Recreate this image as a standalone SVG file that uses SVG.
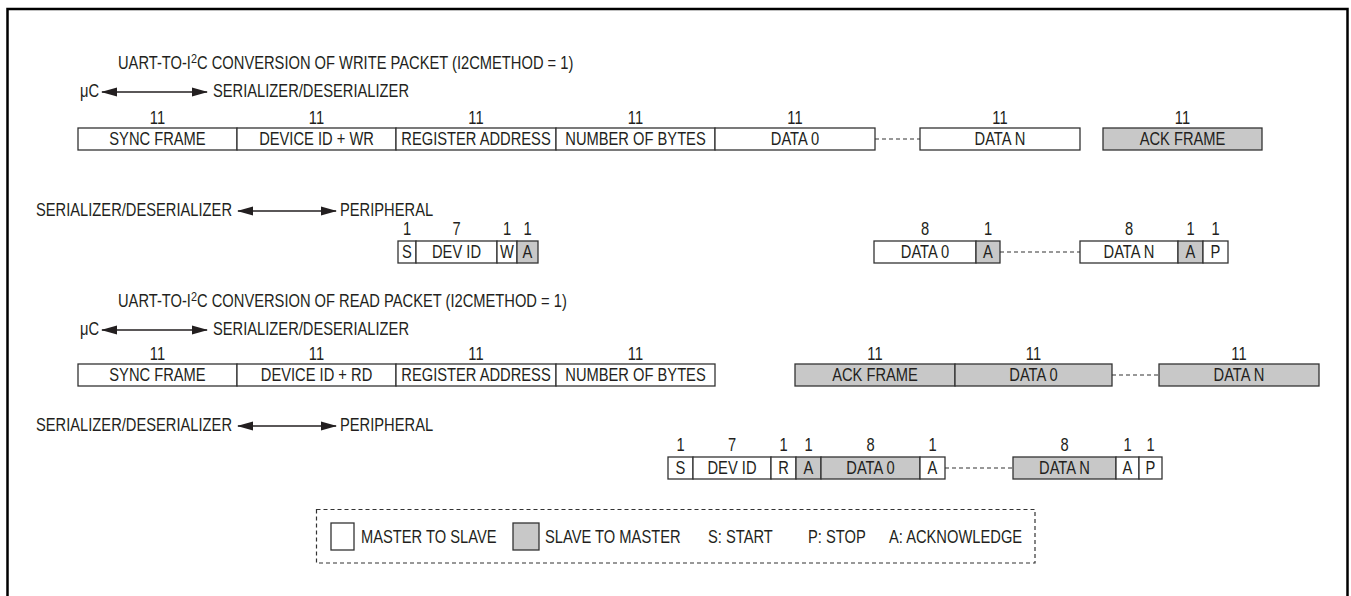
<svg xmlns="http://www.w3.org/2000/svg" width="1351" height="596" viewBox="0 0 1351 596">
<style>
.t{font-family:"Liberation Sans",Arial,sans-serif;font-size:17.5px;fill:#231f20}
.m{text-anchor:middle}
.b{fill:#fff;stroke:#333;stroke-width:1.3}
.g{fill:#c8c8c8;stroke:#333;stroke-width:1.3}
.d{stroke:#333;stroke-width:1.2;stroke-dasharray:4 3;fill:none}
.ar{stroke:#231f20;stroke-width:1.4;fill:none;marker-start:url(#ah);marker-end:url(#ah)}
</style>
<defs>
<marker id="ah" viewBox="0 0 16 10" refX="15" refY="5" markerWidth="16" markerHeight="10" markerUnits="userSpaceOnUse" orient="auto-start-reverse">
<path d="M0,0.5 L16,5 L0,9.5 Z" fill="#231f20"/>
</marker>
</defs>
<rect x="7.5" y="9" width="1340" height="600" fill="none" stroke="#000" stroke-width="2.5"/>

<g id="connectors">
<line class="ar" x1="102" y1="92" x2="207" y2="92"/>
<line class="ar" x1="238" y1="211" x2="336" y2="211"/>
<line class="ar" x1="102" y1="330" x2="207" y2="330"/>
<line class="ar" x1="238" y1="426" x2="336" y2="426"/>
<line class="d" x1="875" y1="139" x2="920" y2="139"/>
<line class="d" x1="1000" y1="252" x2="1080" y2="252"/>
<line class="d" x1="1112" y1="375" x2="1159" y2="375"/>
<line class="d" x1="945" y1="468" x2="1013" y2="468"/>
</g>

<g id="labels">
<text class="t" transform="translate(118 69) scale(.84 1)">UART-TO-I<tspan font-size="13" dy="-6">2</tspan><tspan dy="6">C CONVERSION OF WRITE PACKET (I2CMETHOD = 1)</tspan></text>
<text class="t" transform="translate(80 97) scale(.84 1)">μC</text>
<text class="t" transform="translate(213 97) scale(.84 1)">SERIALIZER/DESERIALIZER</text>
<text class="t" transform="translate(36 216) scale(.84 1)">SERIALIZER/DESERIALIZER</text>
<text class="t" transform="translate(340 216) scale(.84 1)">PERIPHERAL</text>
<text class="t" transform="translate(118 307) scale(.84 1)">UART-TO-I<tspan font-size="13" dy="-6">2</tspan><tspan dy="6">C CONVERSION OF READ PACKET (I2CMETHOD = 1)</tspan></text>
<text class="t" transform="translate(80 335) scale(.84 1)">μC</text>
<text class="t" transform="translate(213 335) scale(.84 1)">SERIALIZER/DESERIALIZER</text>
<text class="t" transform="translate(36 431) scale(.84 1)">SERIALIZER/DESERIALIZER</text>
<text class="t" transform="translate(340 431) scale(.84 1)">PERIPHERAL</text>
</g>

<g id="write-uart">
<rect class="b" x="78" y="128" width="159" height="22"/>
<rect class="b" x="237" y="128" width="159" height="22"/>
<rect class="b" x="396" y="128" width="160" height="22"/>
<rect class="b" x="556" y="128" width="159" height="22"/>
<rect class="b" x="715" y="128" width="160" height="22"/>
<rect class="b" x="920" y="128" width="160" height="22"/>
<rect class="g" x="1103" y="128" width="159" height="22"/>
<g class="t m">
<text transform="translate(157.5 124) scale(.84 1)">11</text>
<text transform="translate(316.5 124) scale(.84 1)">11</text>
<text transform="translate(476 124) scale(.84 1)">11</text>
<text transform="translate(635.5 124) scale(.84 1)">11</text>
<text transform="translate(795 124) scale(.84 1)">11</text>
<text transform="translate(1000 124) scale(.84 1)">11</text>
<text transform="translate(1182.5 124) scale(.84 1)">11</text>
<text transform="translate(157.5 145) scale(.84 1)">SYNC FRAME</text>
<text transform="translate(316.5 145) scale(.84 1)">DEVICE ID + WR</text>
<text transform="translate(476 145) scale(.84 1)">REGISTER ADDRESS</text>
<text transform="translate(635.5 145) scale(.84 1)">NUMBER OF BYTES</text>
<text transform="translate(795 145) scale(.84 1)">DATA 0</text>
<text transform="translate(1000 145) scale(.84 1)">DATA N</text>
<text transform="translate(1182.5 145) scale(.84 1)">ACK FRAME</text>
</g>
</g>

<g id="write-i2c">
<rect class="b" x="398" y="241" width="18" height="22"/>
<rect class="b" x="416" y="241" width="81" height="22"/>
<rect class="b" x="497" y="241" width="20" height="22"/>
<rect class="g" x="517" y="241" width="21" height="22"/>
<rect class="b" x="874" y="241" width="102" height="22"/>
<rect class="g" x="976" y="241" width="24" height="22"/>
<rect class="b" x="1080" y="241" width="98" height="22"/>
<rect class="g" x="1178" y="241" width="25" height="22"/>
<rect class="b" x="1203" y="241" width="25" height="22"/>
<g class="t m">
<text transform="translate(407 235) scale(.84 1)">1</text>
<text transform="translate(456.5 235) scale(.84 1)">7</text>
<text transform="translate(507 235) scale(.84 1)">1</text>
<text transform="translate(527.5 235) scale(.84 1)">1</text>
<text transform="translate(925 235) scale(.84 1)">8</text>
<text transform="translate(988 235) scale(.84 1)">1</text>
<text transform="translate(1129 235) scale(.84 1)">8</text>
<text transform="translate(1190.5 235) scale(.84 1)">1</text>
<text transform="translate(1215.5 235) scale(.84 1)">1</text>
<text transform="translate(407 258) scale(.84 1)">S</text>
<text transform="translate(456.5 258) scale(.84 1)">DEV ID</text>
<text transform="translate(507 258) scale(.84 1)">W</text>
<text transform="translate(527.5 258) scale(.84 1)">A</text>
<text transform="translate(925 258) scale(.84 1)">DATA 0</text>
<text transform="translate(988 258) scale(.84 1)">A</text>
<text transform="translate(1129 258) scale(.84 1)">DATA N</text>
<text transform="translate(1190.5 258) scale(.84 1)">A</text>
<text transform="translate(1215.5 258) scale(.84 1)">P</text>
</g>
</g>

<g id="read-uart">
<rect class="b" x="78" y="364" width="159" height="22"/>
<rect class="b" x="237" y="364" width="159" height="22"/>
<rect class="b" x="396" y="364" width="160" height="22"/>
<rect class="b" x="556" y="364" width="159" height="22"/>
<rect class="g" x="795" y="364" width="160" height="22"/>
<rect class="g" x="955" y="364" width="157" height="22"/>
<rect class="g" x="1159" y="364" width="160" height="22"/>
<g class="t m">
<text transform="translate(157.5 360) scale(.84 1)">11</text>
<text transform="translate(316.5 360) scale(.84 1)">11</text>
<text transform="translate(476 360) scale(.84 1)">11</text>
<text transform="translate(635.5 360) scale(.84 1)">11</text>
<text transform="translate(875 360) scale(.84 1)">11</text>
<text transform="translate(1033.5 360) scale(.84 1)">11</text>
<text transform="translate(1239 360) scale(.84 1)">11</text>
<text transform="translate(157.5 381) scale(.84 1)">SYNC FRAME</text>
<text transform="translate(316.5 381) scale(.84 1)">DEVICE ID + RD</text>
<text transform="translate(476 381) scale(.84 1)">REGISTER ADDRESS</text>
<text transform="translate(635.5 381) scale(.84 1)">NUMBER OF BYTES</text>
<text transform="translate(875 381) scale(.84 1)">ACK FRAME</text>
<text transform="translate(1033.5 381) scale(.84 1)">DATA 0</text>
<text transform="translate(1239 381) scale(.84 1)">DATA N</text>
</g>
</g>

<g id="read-i2c">
<rect class="b" x="668" y="457" width="25" height="22"/>
<rect class="b" x="693" y="457" width="78" height="22"/>
<rect class="b" x="771" y="457" width="25" height="22"/>
<rect class="g" x="796" y="457" width="25" height="22"/>
<rect class="g" x="821" y="457" width="99" height="22"/>
<rect class="b" x="920" y="457" width="25" height="22"/>
<rect class="g" x="1013" y="457" width="103" height="22"/>
<rect class="b" x="1116" y="457" width="23" height="22"/>
<rect class="b" x="1139" y="457" width="23" height="22"/>
<g class="t m">
<text transform="translate(680.5 451) scale(.84 1)">1</text>
<text transform="translate(732 451) scale(.84 1)">7</text>
<text transform="translate(783.5 451) scale(.84 1)">1</text>
<text transform="translate(808.5 451) scale(.84 1)">1</text>
<text transform="translate(870.5 451) scale(.84 1)">8</text>
<text transform="translate(932.5 451) scale(.84 1)">1</text>
<text transform="translate(1064.5 451) scale(.84 1)">8</text>
<text transform="translate(1127.5 451) scale(.84 1)">1</text>
<text transform="translate(1150.5 451) scale(.84 1)">1</text>
<text transform="translate(680.5 474) scale(.84 1)">S</text>
<text transform="translate(732 474) scale(.84 1)">DEV ID</text>
<text transform="translate(783.5 474) scale(.84 1)">R</text>
<text transform="translate(808.5 474) scale(.84 1)">A</text>
<text transform="translate(870.5 474) scale(.84 1)">DATA 0</text>
<text transform="translate(932.5 474) scale(.84 1)">A</text>
<text transform="translate(1064.5 474) scale(.84 1)">DATA N</text>
<text transform="translate(1127.5 474) scale(.84 1)">A</text>
<text transform="translate(1150.5 474) scale(.84 1)">P</text>
</g>
</g>

<g id="legend">
<rect x="316.5" y="509.5" width="718.5" height="53.5" class="d"/>
<rect class="b" x="331" y="523" width="23" height="27"/>
<rect class="g" x="513" y="523" width="26" height="27"/>
<g class="t">
<text transform="translate(361 543) scale(.84 1)">MASTER TO SLAVE</text>
<text transform="translate(545 543) scale(.84 1)">SLAVE TO MASTER</text>
<text transform="translate(708 543) scale(.84 1)">S: START</text>
<text transform="translate(808 543) scale(.84 1)">P: STOP</text>
<text transform="translate(889 543) scale(.84 1)">A: ACKNOWLEDGE</text>
</g>
</g>
</svg>
